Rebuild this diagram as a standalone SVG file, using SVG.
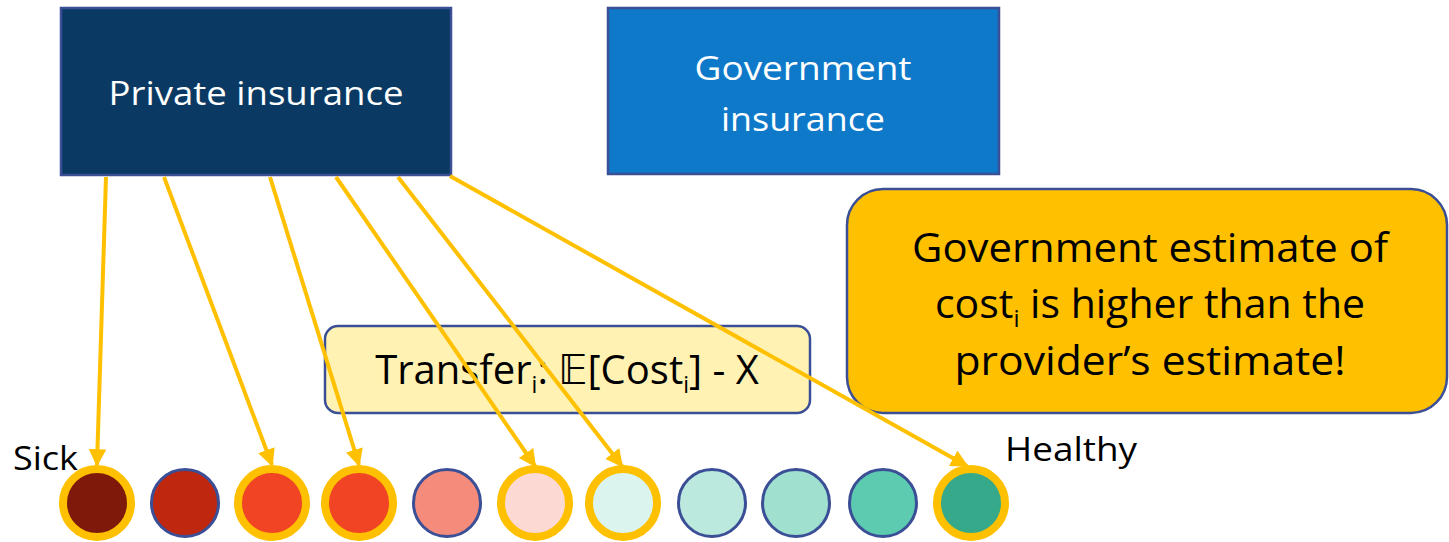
<svg xmlns="http://www.w3.org/2000/svg" width="1449" height="542" viewBox="0 0 1449 542">
  <style>
    .lbl { font-family: "Open Sans", "Liberation Sans", sans-serif; }
    .white { fill: #ffffff; }
    .dark { fill: #000000; }
    .conn { stroke: #ffc000; stroke-width: 4; fill: none; }
    .ring-y { stroke: #ffc000; stroke-width: 8; }
    .ring-b { stroke: #3b4f96; stroke-width: 3; }
    .box { stroke: #3b4f96; stroke-width: 2.5; }
  </style>
  <defs>
    <marker id="head" viewBox="0 0 10 10" refX="9" refY="5" markerWidth="4.4" markerHeight="4.4" orient="auto" markerUnits="strokeWidth">
      <path d="M0,0 L10,5 L0,10 z" fill="#ffc000"/>
    </marker>
  </defs>

  <rect width="1449" height="542" fill="#ffffff"/>

  <!-- insurers -->
  <g id="private-insurance">
    <rect class="box" x="61" y="8" width="390" height="167" fill="#0a3a63"/>
    <text class="lbl white" x="256" y="105" font-size="33" text-anchor="middle" textLength="295" lengthAdjust="spacingAndGlyphs">Private insurance</text>
  </g>
  <g id="government-insurance">
    <rect class="box" x="608" y="8" width="391" height="166" fill="#0f79c9"/>
    <text class="lbl white" x="803" y="80" font-size="33" text-anchor="middle" textLength="217" lengthAdjust="spacingAndGlyphs">Government</text>
    <text class="lbl white" x="803" y="131" font-size="33" text-anchor="middle" textLength="164" lengthAdjust="spacingAndGlyphs">insurance</text>
  </g>

  <!-- notes -->
  <g id="callout">
    <rect class="box" x="847" y="189" width="600" height="224" rx="36" ry="36" fill="#ffc000"/>
    <text class="lbl dark" x="1150" y="262" font-size="41" text-anchor="middle" textLength="476" lengthAdjust="spacingAndGlyphs">Government estimate of</text>
    <text class="lbl dark" x="1150" y="318" font-size="41" text-anchor="middle">cost<tspan font-size="24" dy="9">i</tspan><tspan dy="-9"> is higher than the</tspan></text>
    <text class="lbl dark" x="1150" y="375" font-size="41" text-anchor="middle" textLength="391" lengthAdjust="spacingAndGlyphs">provider’s estimate!</text>
  </g>

  <g id="transfer">
    <rect x="325" y="326" width="485" height="87" rx="13" ry="13" fill="#fff2b3" stroke="#3b4f96" stroke-width="2.5"/>
    <text class="lbl dark" x="567" y="384" font-size="40" text-anchor="middle">Transfer<tspan font-size="23" dy="9">i</tspan><tspan dy="-9">: </tspan><tspan font-family="DejaVu Sans, sans-serif">𝔼</tspan>[Cost<tspan font-size="23" dy="9">i</tspan><tspan dy="-9">] - X</tspan></text>
  </g>

  <!-- connectors: private insurer to enrolled people -->
  <g id="connectors">
    <line class="conn" x1="106" y1="177" x2="97" y2="465" marker-end="url(#head)"/>
    <line class="conn" x1="164" y1="177" x2="272" y2="465" marker-end="url(#head)"/>
    <line class="conn" x1="270" y1="177" x2="359" y2="465" marker-end="url(#head)"/>
    <line class="conn" x1="336" y1="177" x2="535" y2="466" marker-end="url(#head)"/>
    <line class="conn" x1="398" y1="177" x2="622" y2="466" marker-end="url(#head)"/>
    <line class="conn" x1="450" y1="176" x2="967" y2="466" marker-end="url(#head)"/>
  </g>

  <!-- population from sick to healthy -->
  <g id="label-sick"><text class="lbl dark" x="13" y="470" font-size="33" textLength="65" lengthAdjust="spacingAndGlyphs">Sick</text></g>
  <g id="label-healthy"><text class="lbl dark" x="1005" y="461" font-size="33" textLength="132" lengthAdjust="spacingAndGlyphs">Healthy</text></g>

  <g id="person-1"><circle class="ring-y" cx="97" cy="503" r="34" fill="#7f1a0a"/></g>
  <g id="person-2"><circle class="ring-b" cx="185" cy="503" r="33.5" fill="#c0270f"/></g>
  <g id="person-3"><circle class="ring-y" cx="272" cy="503" r="34" fill="#f04424"/></g>
  <g id="person-4"><circle class="ring-y" cx="359" cy="503" r="34" fill="#f04424"/></g>
  <g id="person-5"><circle class="ring-b" cx="447" cy="503" r="33.5" fill="#f58b7a"/></g>
  <g id="person-6"><circle class="ring-y" cx="535" cy="503" r="34" fill="#fcd9d3"/></g>
  <g id="person-7"><circle class="ring-y" cx="623" cy="503" r="34" fill="#dcf4ee"/></g>
  <g id="person-8"><circle class="ring-b" cx="712" cy="503" r="33.5" fill="#bbe9de"/></g>
  <g id="person-9"><circle class="ring-b" cx="796" cy="503" r="33.5" fill="#9fe0cf"/></g>
  <g id="person-10"><circle class="ring-b" cx="883" cy="503" r="33.5" fill="#5ccbb0"/></g>
  <g id="person-11"><circle class="ring-y" cx="971" cy="503" r="34" fill="#36a98a"/></g>
</svg>
